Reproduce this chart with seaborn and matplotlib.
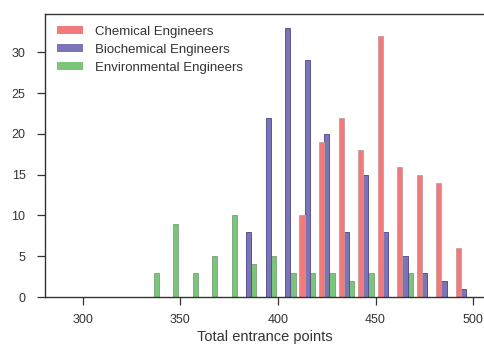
import pandas as pd
import seaborn as sns
import matplotlib.pyplot as plt
from matplotlib.patches import Patch

# bin edges of the histogram (width 10)
bin_edges = [330, 340, 350, 360, 370, 380, 390, 400, 410, 420, 430, 440, 450, 460, 470, 480, 490, 500]
bin_centers = [335, 345, 355, 365, 375, 385, 395, 405, 415, 425, 435, 445, 455, 465, 475, 485, 495]

# counts per bin
chemical = [0, 0, 0, 0, 0, 0, 0, 0, 10, 19, 22, 18, 32, 16, 15, 14, 6]
biochemical = [0, 0, 0, 0, 0, 8, 22, 33, 29, 20, 8, 15, 8, 5, 3, 2, 1]
environmental = [3, 9, 3, 5, 10, 4, 5, 3, 3, 3, 2, 3, 0, 3, 0, 0, 0]

groups = ["Chemical Engineers", "Biochemical Engineers", "Environmental Engineers"]
colors = ["#f27a7a", "#7b74b6", "#79c679"]
edges = ["#c89a9a", "#4a4688", "#7e9e7e"]

df = pd.DataFrame({
    "points": bin_centers * 3,
    "count": chemical + biochemical + environmental,
    "group": [groups[0]] * len(bin_centers) + [groups[1]] * len(bin_centers) + [groups[2]] * len(bin_centers),
})

sns.set_style("ticks")
plt.rcParams["font.family"] = ["Liberation Sans", "DejaVu Sans"]
plt.rcParams["text.color"] = "#333333"
plt.rcParams["axes.labelcolor"] = "#333333"
plt.rcParams["xtick.color"] = "#333333"
plt.rcParams["ytick.color"] = "#333333"

fig = plt.figure(figsize=(4.84, 3.47), dpi=100)
ax = fig.add_axes([45 / 484, 50 / 347, 439 / 484, 283 / 347])

sns.histplot(data=df, x="points", weights="count", hue="group", hue_order=groups,
             palette=colors, bins=bin_edges, multiple="dodge", shrink=0.8,
             alpha=1, linewidth=0.6, legend=False, ax=ax)

# per-group outline colour
for bars, ec in zip(ax.containers[::-1], edges):
    for bar in bars:
        bar.set_edgecolor(ec)
        if bar.get_height() == 0:
            bar.set_visible(False)

ax.set_xlim(280.7, 505.5)
ax.set_ylim(0, 34.7)
ax.set_xticks([300, 350, 400, 450, 500])
ax.set_yticks([0, 5, 10, 15, 20, 25, 30])
ax.set_xlabel("Total entrance points", fontsize=10.5, labelpad=3)
ax.set_ylabel("")
ax.tick_params(axis="both", labelsize=9, length=6, width=0.9, direction="out")
ax.tick_params(axis="y", pad=8)
ax.tick_params(axis="x", pad=6)

for side in ["left", "bottom", "top"]:
    ax.spines[side].set_visible(True)
    ax.spines[side].set_color("#333333")
    ax.spines[side].set_linewidth(1.0)
ax.spines["right"].set_visible(False)

handles = [Patch(facecolor=c, edgecolor="none") for c in colors]
ax.legend(handles, groups, loc="upper left", frameon=False, fontsize=9.5,
          handlelength=2.0, handleheight=0.6, labelspacing=0.45,
          handletextpad=0.9, bbox_to_anchor=(0.0, 1.0), borderaxespad=0.5)

fig.savefig("out.png", dpi=100)
